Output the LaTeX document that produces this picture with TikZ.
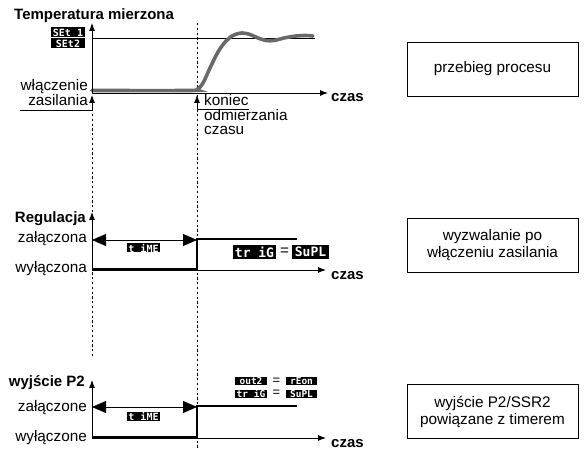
\documentclass[tikz,border=0pt]{standalone}
\usepackage{fontspec}
\setmainfont{Liberation Sans}
\newfontfamily\lcdfont{DejaVu Sans Mono}
\usetikzlibrary{arrows.meta}
\definecolor{curvegray}{RGB}{105,105,105}
\begin{document}
\begin{tikzpicture}[x=1pt,y=-1pt,
  lbl/.style={inner sep=0pt,font=\fontsize{15.3}{17}\selectfont},
  ttl/.style={inner sep=0pt,font=\fontsize{15}{17}\selectfont\bfseries},
  lcd/.style={fill=black,text=white,inner sep=0pt,minimum width=33pt,minimum height=9pt,
    font=\lcdfont\bfseries\fontsize{10}{10}\selectfont},
  lcdsm/.style={lcd,minimum width=32pt,minimum height=8pt,font=\lcdfont\bfseries\fontsize{9.5}{9}\selectfont},
  lcdbig/.style={lcd,minimum height=14pt,font=\lcdfont\bfseries\fontsize{13}{13}\selectfont},
  axis/.style={line width=0.9pt,-{Latex[length=8pt,width=6pt]}},
  marker/.style={line width=0.9pt,-{Latex[length=8pt,width=6pt]}},
  dbl/.style={line width=0.9pt,{Triangle[length=14pt,width=12pt]}-{Triangle[length=14pt,width=12pt]}},
  sig/.style={line width=2.5pt,line join=miter},
  guide/.style={line width=1pt,dash pattern=on 2.2pt off 2.6pt},
  infobox/.style={draw,line width=0.8pt,minimum width=171pt,minimum height=54pt,align=center,
    inner sep=0pt,font=\fontsize{15.3}{17}\selectfont}]
\useasboundingbox (0,0) rectangle (584,454);

% ---------- guides ----------
\coordinate (gA1) at (92,114); \coordinate (gA2) at (92,358);
\coordinate (gB1) at (197,23);  \coordinate (gB2) at (197,450);
\draw[guide] (gA1) -- (gA2);
\draw[guide] (gB1) -- (gB2);

% ---------- top graph ----------
\coordinate (o1) at (92,93);
\coordinate (y1) at (92,23);
\coordinate (x1) at (328,93);
\coordinate (s1a) at (92,38); \coordinate (s1b) at (315,38);
\draw[line width=0.8pt] (s1a) -- (s1b);
\draw[curvegray,line width=3.6pt,line cap=round] plot[smooth,tension=0.55] coordinates
  {(92,90.5) (188,90.5) (197,89.5) (203,83) (210,68) (218,52) (226,41) (234,35) (242,33)
   (250,34.5) (258,38) (266,40.5) (274,40.5) (284,38) (296,36) (306,35.5) (313,36)};
\draw[axis] (o1) -- (y1);
\draw[axis] (o1) -- (x1);
\node[ttl,anchor=base west] (t1) at (14,20) {Temperatura mierzona};
\node[lcd,minimum width=34pt,minimum height=10pt] (set1) at (68,32.5) {SEt 1};
\node[lcd,minimum width=34pt,minimum height=10pt] (set2) at (68,43.5) {SEt2};
\node[lbl,anchor=base east] (wl1) at (88,91) {włączenie};
\node[lbl,anchor=base east] (wl2) at (88,106) {zasilania};
\coordinate (u1a) at (20,110); \coordinate (u1b) at (92,110); \coordinate (u1c) at (92,95);
\draw[marker] (u1a) -- (u1b) -- (u1c);
\node[lbl,anchor=base west] (k1) at (204,106) {koniec};
\node[lbl,anchor=base west] (k2) at (204,121) {odmierzania};
\node[lbl,anchor=base west] (k3) at (204,135) {czasu};
\coordinate (u2a) at (249,109); \coordinate (u2b) at (197,109); \coordinate (u2c) at (197,95);
\draw[marker] (u2a) -- (u2b) -- (u2c);
\node[ttl,anchor=base west] (cz1) at (331,102) {czas};

% ---------- middle graph ----------
\coordinate (o2) at (92,270);
\coordinate (y2) at (92,212);
\coordinate (x2) at (326,270);
\draw[axis] (o2) -- (y2);
\draw[axis] (o2) -- (x2);
\node[ttl,anchor=base east] (r1) at (86,223) {Regulacja};
\node[lbl,anchor=base east] (on2) at (87,243) {załączona};
\node[lbl,anchor=base east] (off2) at (87,273) {wyłączona};
\coordinate (d2a) at (92,240); \coordinate (d2b) at (197,240);
\draw[dbl] (d2a) -- (d2b);
\coordinate (p2a) at (92,269); \coordinate (p2b) at (197,269);
\coordinate (p2c) at (197,239); \coordinate (p2d) at (297,239);
\draw[sig] (p2a) -- (p2b) -- (p2c) -- (p2d);
\node[lcd] (tm2) at (143.5,248) {t iME};
\node[lcdbig,minimum width=43pt] (tr2) at (254.5,252) {tr iG};
\node[lbl] (eq2) at (284.5,251.5) {=};
\node[lcdbig,minimum width=37pt] (su2) at (310.5,252) {SuPL};
\node[ttl,anchor=base west] (cz2) at (331,280) {czas};

% ---------- bottom graph ----------
\coordinate (o3) at (92,438);
\coordinate (y3) at (92,380);
\coordinate (x3) at (326,438);
\draw[axis] (o3) -- (y3);
\draw[axis] (o3) -- (x3);
\node[ttl,anchor=base east] (w3) at (85,387) {wyjście P2};
\node[lbl,anchor=base east] (on3) at (87,412) {załączone};
\node[lbl,anchor=base east] (off3) at (87,441) {wyłączone};
\coordinate (d3a) at (92,407); \coordinate (d3b) at (197,407);
\draw[dbl] (d3a) -- (d3b);
\coordinate (p3a) at (92,437); \coordinate (p3b) at (197,437);
\coordinate (p3c) at (197,406); \coordinate (p3d) at (297,406);
\draw[sig] (p3a) -- (p3b) -- (p3c) -- (p3d);
\node[lcd] (tm3) at (143.5,416.5) {t iME};
\node[lcdsm] (ou3) at (251,381.5) {out2};
\node[lbl,font=\fontsize{13}{13}\selectfont] (eq3a) at (276.5,381) {=};
\node[lcdsm,minimum width=31pt] (re3) at (301.5,381.5) {rEon};
\node[lcdsm] (tr3) at (251,394) {tr iG};
\node[lbl,font=\fontsize{13}{13}\selectfont] (eq3b) at (276.5,393.5) {=};
\node[lcdsm,minimum width=31pt] (su3) at (301.5,394) {SuPL};
\node[ttl,anchor=base west] (cz3) at (331,447) {czas};

% ---------- right boxes ----------
\node[infobox] (b1) at (492.5,69) {przebieg procesu};
\node[infobox] (b2) at (492.5,245.5) {wyzwalanie po\\włączeniu zasilania};
\node[infobox] (b3) at (492.5,411.5) {wyjście P2/SSR2\\powiązane z timerem};
\end{tikzpicture}
\end{document}
